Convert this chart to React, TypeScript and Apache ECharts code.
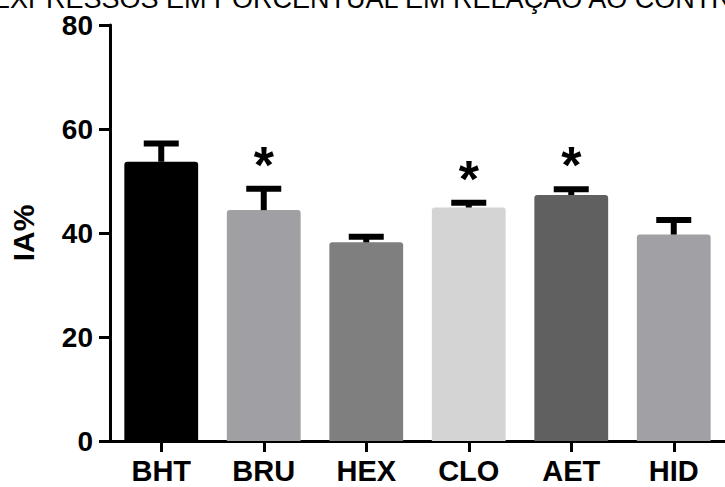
import React, { useEffect, useRef } from "react";
import * as echarts from "echarts";

// Groups, mean IA% values and mean + SEM (upper whisker)
const categories = ["BHT", "BRU", "HEX", "CLO", "AET", "HID"];
const means = [53.7, 44.4, 38.2, 44.9, 47.3, 39.7];
const upperErr = [57.2, 48.5, 39.3, 45.8, 48.4, 42.5];
const significant = [false, true, false, true, true, false];
const barColors = ["#000000", "#a09fa4", "#7f7f7f", "#d4d4d4", "#606060", "#a1a0a4"];

const yMin = 0;
const yMax = 80;
const yStep = 20;

const titleText = "EXPRESSOS EM PORCENTUAL EM RELAÇÃO AO CONTROLE";
const yName = "IA%";

const FONT = "'Liberation Sans', Arial, Helvetica, sans-serif";

export default function App() {
  const ref = useRef<HTMLDivElement>(null);

  useEffect(() => {
    if (!ref.current) return;
    const chart = echarts.init(ref.current, undefined, { renderer: "svg" });

    const errData = categories.map((_, i) => [i, means[i], upperErr[i], significant[i] ? 1 : 0]);

    chart.setOption({
      animation: false,
      backgroundColor: "#ffffff",
      textStyle: { fontFamily: FONT },
      graphic: [
        {
          type: "text",
          left: -8,
          top: -15,
          style: {
            text: titleText,
            fontSize: 27,
            lineHeight: 20,
            fontFamily: FONT,
            fill: "#000",
          },
        },
      ],
      grid: { left: 110, right: -7, top: 25, bottom: 46, containLabel: false },
      xAxis: {
        type: "category",
        data: categories,
        axisLine: { show: true, lineStyle: { color: "#000", width: 3 } },
        axisTick: { show: true, alignWithLabel: true, length: 11, lineStyle: { color: "#000", width: 3 } },
        axisLabel: { color: "#000", fontSize: 29, fontWeight: "bold", fontFamily: FONT, margin: 15 },
      },
      yAxis: {
        type: "value",
        min: yMin,
        max: yMax,
        interval: yStep,
        name: yName,
        nameLocation: "middle",
        nameGap: 72,
        nameTextStyle: { color: "#000", fontSize: 30, fontWeight: "bold", fontFamily: FONT },
        axisLine: { show: true, lineStyle: { color: "#000", width: 3 } },
        axisTick: { show: true, length: 11, lineStyle: { color: "#000", width: 3 } },
        axisLabel: {
          color: "#000",
          fontSize: 28,
          lineHeight: 21,
          fontWeight: "bold",
          fontFamily: FONT,
          margin: 17,
        },
        splitLine: { show: false },
      },
      series: [
        {
          type: "bar",
          barWidth: "72%",
          data: means.map((v, i) => ({
            value: v,
            itemStyle: { color: barColors[i], borderRadius: [3, 3, 0, 0] },
          })),
          z: 2,
        },
        {
          type: "custom",
          z: 5,
          data: errData,
          encode: { x: 0, y: 2 },
          renderItem: (_params: any, api: any) => {
            const i = api.value(0);
            const top = api.coord([i, api.value(1)]);
            const cap = api.coord([i, api.value(2)]);
            const half = 17.5;
            const children: any[] = [
              {
                type: "line",
                shape: { x1: top[0], y1: top[1], x2: cap[0], y2: cap[1] },
                style: { stroke: "#000", lineWidth: 6 },
              },
              {
                type: "line",
                shape: { x1: cap[0] - half, y1: cap[1], x2: cap[0] + half, y2: cap[1] },
                style: { stroke: "#000", lineWidth: 6 },
              },
            ];
            if (api.value(3) === 1) {
              children.push({
                type: "text",
                x: cap[0],
                y: cap[1] - 24,
                style: {
                  text: "*",
                  fontSize: 52,
                  fontWeight: "bold",
                  fontFamily: FONT,
                  fill: "#000",
                  align: "center",
                  verticalAlign: "middle",
                },
              });
            }
            return { type: "group", children };
          },
        },
      ],
    });

    return () => chart.dispose();
  }, []);

  return (
    <div
      ref={ref}
      style={{ position: "fixed", left: 0, top: 0, width: 725, height: 487, background: "#fff" }}
    />
  );
}
